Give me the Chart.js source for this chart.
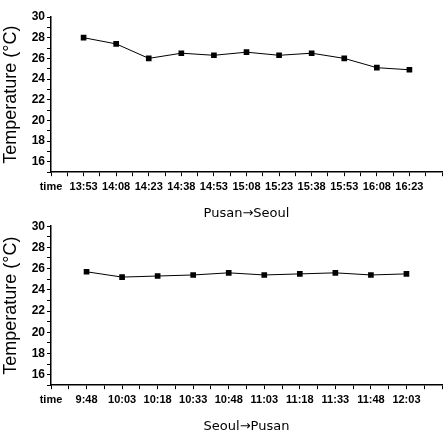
<!DOCTYPE html>
<html>
<head>
<meta charset="utf-8">
<script src="https://cdn.jsdelivr.net/npm/chart.js@4.4.0/dist/chart.umd.min.js"></script>
<style>
  html, body { margin: 0; padding: 0; background: #fff; }
  .box { width: 446px; position: absolute; left: 0; }
  #topBox { top: 0; height: 221px; }
  #botBox { top: 217px; height: 217px; }
</style>
</head>
<body>
<div class="box" id="topBox"><canvas id="topChart"></canvas></div>
<div class="box" id="botBox"><canvas id="bottomChart"></canvas></div>
<script>
// tick labels (index 0 = "time", last slot empty)
const top_times = ["time", "13:53", "14:08", "14:23", "14:38", "14:53", "15:08", "15:23", "15:38", "15:53", "16:08", "16:23", ""];
const top_temps = [28.0, 27.4, 26.0, 26.5, 26.3, 26.6, 26.3, 26.5, 26.0, 25.1, 24.9];

const bot_times = ["time", "9:48", "10:03", "10:18", "10:33", "10:48", "11:03", "11:18", "11:33", "11:48", "12:03", ""];
const bot_temps = [25.7, 25.2, 25.3, 25.4, 25.6, 25.4, 25.5, 25.6, 25.4, 25.5];

const y_min = 15;
const y_max = 30;

const FONT = "'Liberation Sans', Arial, sans-serif";

function makeConfig(times, temps, title, padTop) {
    const pts = temps.map((t, i) => ({ x: i + 1, y: t }));
    return {
        type: 'line',
        data: {
            datasets: [{
                data: pts,
                borderColor: '#000',
                backgroundColor: '#000',
                borderWidth: 1,
                pointStyle: 'rect',
                pointRadius: 4,
                pointBorderWidth: 0,
                tension: 0,
            }],
        },
        options: {
            responsive: true,
            maintainAspectRatio: false,
            animation: false,
            layout: { padding: { top: padTop, right: 0, left: 0, bottom: 0 } },
            plugins: { legend: { display: false }, tooltip: { enabled: false } },
            scales: {
                x: {
                    type: 'linear',
                    min: 0,
                    max: times.length - 1,
                    grid: { drawOnChartArea: false, tickLength: 4, color: '#000' },
                    border: { color: '#000', width: 1.5 },
                    ticks: {
                        stepSize: 0.5,
                        autoSkip: false,
                        maxRotation: 0,
                        color: '#000',
                        padding: 4,
                        font: { family: FONT, size: 11, weight: 'bold' },
                        callback: (v) => Number.isInteger(v) ? times[v] : '',
                    },
                    title: {
                        display: true,
                        text: title,
                        color: '#000',
                        padding: { top: 8, bottom: 0 },
                        font: { family: "'DejaVu Sans', sans-serif", size: 13 },
                    },
                },
                y: {
                    min: y_min,
                    max: y_max,
                    afterFit: (s) => { s.width = 51; },
                    grid: { drawOnChartArea: false, tickLength: 4, color: '#000' },
                    border: { color: '#000', width: 1.5 },
                    ticks: {
                        stepSize: 1,
                        autoSkip: false,
                        color: '#000',
                        padding: 2,
                        font: { family: FONT, size: 12, weight: 'bold' },
                        callback: (v) => (v % 2 === 0 && v > y_min) ? v : '',
                    },
                    title: {
                        display: true,
                        text: 'Temperature (°C)',
                        color: '#000',
                        padding: { top: 0, bottom: 1 },
                        font: { family: FONT, size: 18 },
                    },
                },
            },
        },
    };
}

new Chart(document.getElementById('topChart'), makeConfig(top_times, top_temps, 'Pusan→Seoul', 17));
new Chart(document.getElementById('bottomChart'), makeConfig(bot_times, bot_temps, 'Seoul→Pusan', 1));
</script>
</body>
</html>
